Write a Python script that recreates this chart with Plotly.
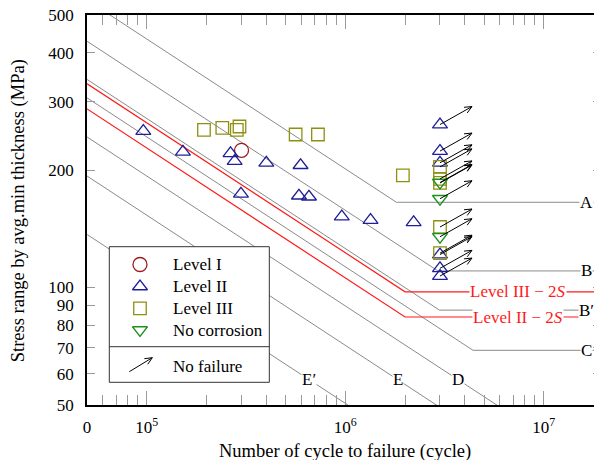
import numpy as np
import plotly.graph_objects as go

# ---------------- data ----------------
level1_N = [3.0e5]
level1_S = [225]

level2_N = [9.6e4, 1.52e5, 2.64e5, 2.77e5, 2.98e5, 4.0e5, 5.95e5, 5.84e5, 6.56e5,
            9.6e5, 1.34e6, 2.21e6, 3e6, 3e6, 3e6, 3e6, 3e6, 3e6]
level2_S = [252, 223, 221, 211, 174, 209, 206, 172, 171,
            152, 149, 147, 262, 224, 209, 121.5, 112, 107]

level3_N = [1.94e5, 2.40e5, 2.84e5, 2.93e5, 5.62e5, 7.28e5, 1.95e6,
            3e6, 3e6, 3e6, 3e6, 3e6]
level3_S = [254, 257, 254, 259, 247, 247, 194,
            204, 190, 185.5, 143, 122.5]

nocorr_N = [3e6, 3e6, 3e6]
nocorr_S = [186, 169, 135]

runout_limit = 3e6  # specimens that reached this count did not fail

# S-N design curves (vertices, MPa)
curve_names = ["A", "B", "B′", "C", "D", "E", "E′"]
curve_N = [[5e4, 1.81e6, 2e7], [5e4, 2.93e6, 2e7], [5e4, 2.98e6, 2e7],
           [5e4, 4.4e6, 2e7], [5e4, 6.41e6, 2e7], [5e4, 1.2e7, 2e7], [5e4, 2e7]]
curve_S = [[547, 165.5, 165.5], [428.5, 110.3, 110.3], [342, 87.5, 87.5],
           [306.7, 69, 69], [243.4, 48.3, 48.3], [193.2, 31.0, 31.0], [136.8, 18.6]]

red_names = ["Level III − 2<i>S</i>", "Level II − 2<i>S</i>"]
red_N = [[5e4, 2e6, 2e7], [5e4, 2e6, 2e7]]
red_S = [[333.4, 97.5, 97.5], [287.3, 84.0, 84.0]]

x_tickvals = [5e4, 1e5, 1e6, 1e7]
x_ticktext = ["0", "10<sup>5</sup>", "10<sup>6</sup>", "10<sup>7</sup>"]
x_minor = [6e4, 7e4, 8e4, 9e4] + [k * 1e5 for k in range(2, 10)] + [k * 1e6 for k in range(2, 10)]
y_tickvals = [50, 60, 70, 80, 90, 100, 200, 300, 400, 500]

# ---------------- styling / geometry ----------------
FONT = "Liberation Serif"
GRAY = "#8a8a8a"
TICK = "#9a9a9a"
C1, C2, C3, C4 = "#9c1c1c", "#1f1f99", "#8f8f10", "#1f8f1f"
PLOT_W, PLOT_H = 514, 390          # plot area in px
PX_PER_DEC_X, PX_PER_DEC_Y = 198.5, 390.0


def arrow_px(dx, dy, barb=8.0, ang=24.0):
    """Arrow (shaft + two barbs) as pixel offsets from its tail; y is up."""
    L = np.hypot(dx, dy)
    ux, uy = dx / L, dy / L
    pts = [(0, 0), (dx, dy), None]
    for a in (np.radians(ang), -np.radians(ang)):
        bx = -(ux * np.cos(a) - uy * np.sin(a)) * barb
        by = -(ux * np.sin(a) + uy * np.cos(a)) * barb
        pts += [(dx + bx, dy + by), (dx, dy), None]
    return pts


fig = go.Figure()

for n, s in zip(curve_N, curve_S):
    fig.add_trace(go.Scatter(x=n, y=s, mode="lines", line=dict(color=GRAY, width=1),
                             hoverinfo="skip", showlegend=False))
for n, s in zip(red_N, red_S):
    fig.add_trace(go.Scatter(x=n, y=s, mode="lines", line=dict(color="#ff1a1a", width=1.2),
                             hoverinfo="skip", showlegend=False))

series = [
    ("Level I", level1_N, level1_S, "circle-open", C1, 14),
    ("Level II", level2_N, level2_S, "triangle-up-open", C2, 13),
    ("Level III", level3_N, level3_S, "square-open", C3, 12.5),
    ("No corrosion", nocorr_N, nocorr_S, "triangle-down-open", C4, 13),
]
for name, n, s, sym, col, size in series:
    fig.add_trace(go.Scatter(x=n, y=s, mode="markers", name=name, showlegend=False,
                             marker=dict(symbol=sym, size=size, color=col, line=dict(width=1.3, color=col))))

# run-out arrows, drawn from each run-out specimen towards the upper right
ax_pts, ay_pts = [], []
shape = arrow_px(32, 18)
for name, n, s, sym, col, size in series:
    for ni, si in zip(n, s):
        if ni >= runout_limit:
            for p in shape:
                if p is None:
                    ax_pts.append(None); ay_pts.append(None)
                else:
                    ax_pts.append(ni * 10 ** (p[0] / PX_PER_DEC_X))
                    ay_pts.append(si * 10 ** (p[1] / PX_PER_DEC_Y))
fig.add_trace(go.Scatter(x=ax_pts, y=ay_pts, mode="lines", line=dict(color="black", width=1),
                         hoverinfo="skip", showlegend=False))

annotations = []
lab = dict(showarrow=False, bgcolor="white", borderpad=0, xanchor="center", yanchor="middle")
# curve labels on the right
for name, n, s in zip(curve_names[:4], curve_N[:4], curve_S[:4]):
    annotations.append(dict(x=np.log10(1.65e7), y=np.log10(s[-1]), xref="x", yref="y", text=name,
                            font=dict(family=FONT, size=17, color="black"), **lab))
# curve labels at the bottom (on the sloped part)
label_S = 58
for name, n, s in zip(curve_names[4:], curve_N[4:], curve_S[4:]):
    nl = n[0] * (s[0] / label_S) ** 3
    annotations.append(dict(x=np.log10(nl), y=np.log10(label_S), xref="x", yref="y", text=name,
                            font=dict(family=FONT, size=17, color="black"), **lab))
for name, s in zip(red_names, red_S):
    annotations.append(dict(x=np.log10(7.4e6), y=np.log10(s[-1]), xref="x", yref="y", text=name,
                            font=dict(family=FONT, size=17, color="#ff1a1a"), **lab))

# axis titles
annotations.append(dict(x=0.501, y=-0.12, xref="paper", yref="paper", showarrow=False,
                        xanchor="center", yanchor="middle",
                        text="Number of cycle to failure (cycle)",
                        font=dict(family=FONT, size=18.5, color="black")))
annotations.append(dict(x=-0.134, y=0.497, xref="paper", yref="paper", showarrow=False,
                        xanchor="center", yanchor="middle",
                        text="Stress range by avg.min thickness (MPa)", textangle=-90,
                        font=dict(family=FONT, size=18.5, color="black")))

# ---------------- custom legend (on an overlay axis in plot-area units) ----------------
lx0, lx1, ly0, ly1, ldiv = 0.0434, 0.3547, 0.0582, 0.4059, 0.1495
fig.add_trace(go.Scatter(x=[lx0, lx1, lx1, lx0, lx0], y=[ly0, ly0, ly1, ly1, ly0],
                         xaxis="x2", yaxis="y2", mode="lines", fill="toself", fillcolor="white",
                         line=dict(color="#333333", width=1), hoverinfo="skip", showlegend=False))
fig.add_trace(go.Scatter(x=[lx0, lx1], y=[ldiv, ldiv], xaxis="x2", yaxis="y2", mode="lines",
                         line=dict(color="#333333", width=1), hoverinfo="skip", showlegend=False))
row_y = [0.3603, 0.3038, 0.2479, 0.1923]
for (name, n, s, sym, col, size), ry in zip(series, row_y):
    fig.add_trace(go.Scatter(x=[0.1031], y=[ry], xaxis="x2", yaxis="y2", mode="markers",
                             marker=dict(symbol=sym, size=size, color=col, line=dict(width=1.3, color=col)),
                             hoverinfo="skip", showlegend=False))
    annotations.append(dict(x=0.1628, y=ry, xref="paper", yref="paper", text=name, showarrow=False,
                            xanchor="left", yanchor="middle", font=dict(family=FONT, size=17, color="black")))
annotations.append(dict(x=0.1628, y=0.100, xref="paper", yref="paper", text="No failure", showarrow=False,
                        xanchor="left", yanchor="middle", font=dict(family=FONT, size=17, color="black")))
# legend arrow
lg_x, lg_y = [], []
tail_x, tail_y = 0.0823, 0.0854
for p in arrow_px(23, 14):
    if p is None:
        lg_x.append(None); lg_y.append(None)
    else:
        lg_x.append(tail_x + p[0] / PLOT_W); lg_y.append(tail_y + p[1] / PLOT_H)
fig.add_trace(go.Scatter(x=lg_x, y=lg_y, xaxis="x2", yaxis="y2", mode="lines",
                         line=dict(color="black", width=1), hoverinfo="skip", showlegend=False))

# page body has an 8px margin: figure is 594x452 so the plot area lands at x 87..601, y 15..405
fig.update_layout(
    width=594, height=452,
    margin=dict(l=79, r=1, t=7, b=55),
    plot_bgcolor="white", paper_bgcolor="white",
    font=dict(family=FONT, size=17, color="black"),
    showlegend=False,
    annotations=annotations,
    xaxis=dict(type="log", range=[np.log10(5e4) - 0.0005, np.log10(5e4) + PLOT_W / PX_PER_DEC_X],
               tickmode="array", tickvals=x_tickvals, ticktext=x_ticktext,
               ticks="inside", ticklen=14, tickwidth=1, tickcolor=TICK,
               minor=dict(tickmode="array", tickvals=x_minor, ticks="inside", ticklen=10,
                          tickwidth=1, tickcolor=TICK, showgrid=False),
               showline=True, linecolor="black", linewidth=1.5, mirror="allticks",
               showgrid=False, zeroline=False, ticklabelstandoff=6, automargin=False,
               ticklabeloverflow="allow",
               tickfont=dict(family=FONT, size=17, color="black")),
    yaxis=dict(type="log", range=[np.log10(50) - 0.0005, np.log10(500) + 0.0005],
               tickmode="array", tickvals=y_tickvals, ticktext=[str(v) for v in y_tickvals],
               ticks="inside", ticklen=8, tickwidth=1, tickcolor=TICK,
               showline=True, linecolor="black", linewidth=1.5, mirror="allticks",
               showgrid=False, zeroline=False, ticklabelstandoff=8, automargin=False,
               ticklabeloverflow="allow",
               tickfont=dict(family=FONT, size=17, color="black")),
    xaxis2=dict(overlaying="x", range=[0, 1], visible=False, fixedrange=True),
    yaxis2=dict(overlaying="y", range=[0, 1], visible=False, fixedrange=True),
)

fig.write_html("out.html")
